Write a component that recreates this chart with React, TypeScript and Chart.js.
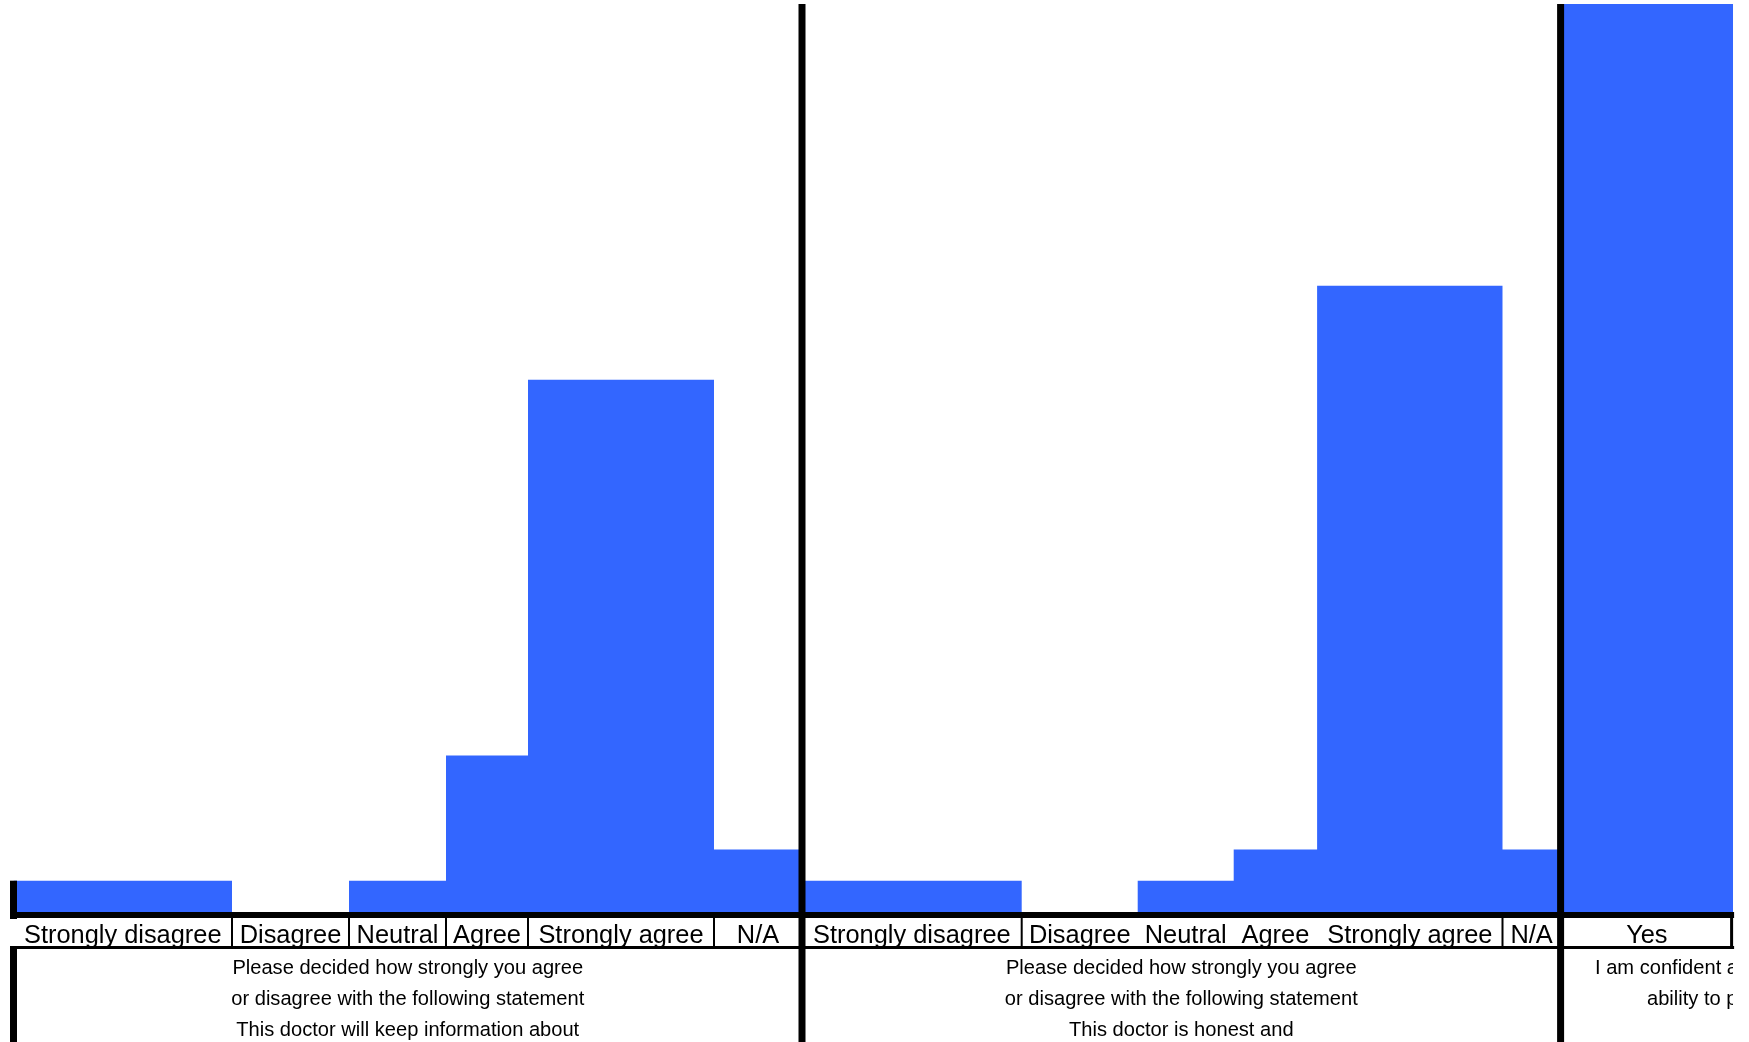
import React, { useEffect, useRef } from "react";
import { Chart, registerables } from "chart.js";

Chart.register(...registerables);

// ---------- data ----------
const panel1Categories = ["Strongly disagree", "Disagree", "Neutral", "Agree", "Strongly agree", "N/A"];
const panel1Values = [1, 0, 1, 5, 17, 2];
const panel1Question = [
  "Please decided how strongly you agree",
  "or disagree with the following statement",
  "This doctor will keep information about",
];

const panel2Categories = ["Strongly disagree", "Disagree", "Neutral", "Agree", "Strongly agree", "N/A"];
const panel2Values = [1, 0, 1, 2, 20, 2];
const panel2Question = [
  "Please decided how strongly you agree",
  "or disagree with the following statement",
  "This doctor is honest and",
];

const panel3Categories = ["Yes"];
const panel3Values = [29];
const panel3Question = ["I am confident a", "ability to p"];

const yMax = 29;

// ---------- layout (px) ----------
const W = 1749;
const H = 1042;
const START_X = 13.5;
const BASE_Y = 912;
const TOP_Y = 4;
const panel1Widths = [218.5, 117, 97, 82, 186, 88];
const panel2Widths = [219.7, 116, 96, 83.4, 185.4, 58.1];
const panel3Widths = [172.5];
const panel1Dividers = [true, true, true, true, true];
const panel2Dividers = [true, false, false, false, true];
const panel3TextX = [1595, 1647];
const BLUE = "#3366FF";
const FONT = '"Liberation Sans", Arial, Helvetica, sans-serif';

type Panel = {
  cats: string[];
  vals: number[];
  widths: number[];
  dividers: boolean[];
  question: string[];
  textX?: number[];
};

const panels: Panel[] = [
  { cats: panel1Categories, vals: panel1Values, widths: panel1Widths, dividers: panel1Dividers, question: panel1Question },
  { cats: panel2Categories, vals: panel2Values, widths: panel2Widths, dividers: panel2Dividers, question: panel2Question },
  { cats: panel3Categories, vals: panel3Values, widths: panel3Widths, dividers: [], question: panel3Question, textX: panel3TextX },
];

function panelBounds() {
  let x = START_X;
  return panels.map((p) => {
    const edges = [x];
    p.widths.forEach((w) => {
      x += w;
      edges.push(x);
    });
    return edges;
  });
}

export default function App() {
  const ref = useRef<HTMLCanvasElement | null>(null);

  useEffect(() => {
    const canvas = ref.current;
    if (!canvas) return;
    const bounds = panelBounds();

    const datasets = panels.map((p, pi) => {
      const e = bounds[pi];
      const pts = p.vals.map((v, i) => ({ x: e[i], y: v }));
      pts.push({ x: e[e.length - 1], y: p.vals[p.vals.length - 1] });
      return {
        label: "panel" + pi,
        data: pts,
        stepped: "before" as const,
        fill: "origin",
        backgroundColor: BLUE,
        borderColor: "rgba(0,0,0,0)",
        borderWidth: 0,
        pointRadius: 0,
        tension: 0,
      };
    });

    const tablePlugin = {
      id: "tablePlugin",
      afterDatasetsDraw(chart: any) {
        const ctx = chart.ctx as CanvasRenderingContext2D;
        const xs = chart.scales.x;
        const ys = chart.scales.y;
        const px = (v: number) => xs.getPixelForValue(v);
        const base = ys.getPixelForValue(0);
        const rowTop = base + 6;
        const rowBottom = base + 35;
        const lastEdges = bounds[bounds.length - 1];
        const rightEdge = px(lastEdges[lastEdges.length - 1]);
        ctx.save();
        ctx.fillStyle = "#000";
        // thick baseline
        ctx.fillRect(10, base, rightEdge + 1 - 10, 6);
        // label row bottom line
        ctx.fillRect(10, rowBottom - 1, rightEdge + 1 - 10, 3);
        // left edge
        const firstTop = ys.getPixelForValue(panels[0].vals[0]);
        ctx.fillRect(10, firstTop, 7, rowTop - firstTop + 1);
        ctx.fillRect(10, rowBottom - 1, 7, H - rowBottom + 1);
        // column dividers
        panels.forEach((p, pi) => {
          const e = bounds[pi];
          p.dividers.forEach((show, i) => {
            if (show) ctx.fillRect(px(e[i + 1]) - 1, rowTop, 2, rowBottom - rowTop);
          });
        });
        // right border of last cell
        ctx.fillRect(rightEdge - 3, rowTop, 3, rowBottom - rowTop + 2);
        // panel separators
        for (let pi = 0; pi < bounds.length - 1; pi++) {
          const e = bounds[pi];
          const sx = px(e[e.length - 1]);
          ctx.fillRect(sx - 3.5, TOP_Y, 7, H - TOP_Y);
        }
        // category labels
        ctx.font = "25.4px " + FONT;
        ctx.textAlign = "center";
        ctx.textBaseline = "middle";
        panels.forEach((p, pi) => {
          const e = bounds[pi];
          p.cats.forEach((c, i) => {
            ctx.fillText(c, (px(e[i]) + px(e[i + 1])) / 2, (rowTop + rowBottom) / 2 + 3);
          });
        });
        // questions
        ctx.font = "20.1px " + FONT;
        ctx.beginPath();
        ctx.rect(0, rowBottom + 2, rightEdge, H - rowBottom);
        ctx.clip();
        panels.forEach((p, pi) => {
          const e = bounds[pi];
          const cx = (px(e[0]) + px(e[e.length - 1])) / 2;
          p.question.forEach((line, li) => {
            const y = rowBottom + 21.5 + li * 31;
            if (p.textX) {
              ctx.textAlign = "left";
              ctx.fillText(line, p.textX[li], y);
            } else {
              ctx.textAlign = "center";
              ctx.fillText(line, cx, y);
            }
          });
        });
        ctx.restore();
      },
    };

    const chart = new Chart(canvas, {
      type: "line",
      data: { datasets: datasets as any },
      options: {
        animation: false,
        responsive: false,
        devicePixelRatio: 1,
        layout: { padding: { top: TOP_Y, bottom: H - BASE_Y, left: 0, right: 0 } },
        plugins: { legend: { display: false }, tooltip: { enabled: false } },
        elements: { line: { borderWidth: 0 } },
        scales: {
          x: { type: "linear", min: 0, max: W, display: false },
          y: { type: "linear", min: 0, max: yMax, display: false },
        },
      },
      plugins: [tablePlugin],
    });
    return () => chart.destroy();
  }, []);

  return (
    <div style={{ position: "fixed", left: 0, top: 0, width: W, height: H, background: "#fff" }}>
      <canvas ref={ref} width={W} height={H} style={{ width: W, height: H, display: "block" }} />
    </div>
  );
}
